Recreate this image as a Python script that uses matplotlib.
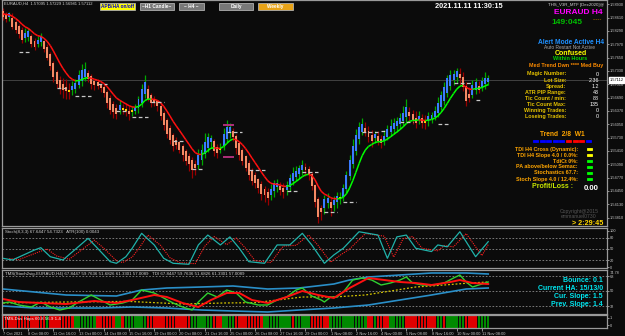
import numpy as np
import matplotlib
matplotlib.use('Agg')
import matplotlib.pyplot as plt
from matplotlib.patches import Rectangle
from matplotlib.collections import LineCollection

plt.rcParams['font.family'] = ['Liberation Sans', 'DejaVu Sans']

W, H = 625, 336
BG = '#0b0b0b'

# --- H4 bars, 7 Oct 2021 00:00 -> 11 Nov 2021 ---
mid_price = [
    1.5870, 1.5862, 1.5867, 1.5850, 1.5841, 1.5831, 1.5819, 1.5817, 1.5822, 1.5807,
    1.5798, 1.5802, 1.5810, 1.5795, 1.5778, 1.5759, 1.5735, 1.5716, 1.5702, 1.5694,
    1.5690, 1.5685, 1.5692, 1.5697, 1.5711, 1.5721, 1.5728, 1.5721, 1.5711, 1.5704,
    1.5702, 1.5697, 1.5687, 1.5670, 1.5654, 1.5644, 1.5637, 1.5644, 1.5642, 1.5639,
    1.5634, 1.5637, 1.5642, 1.5654, 1.5673, 1.5692, 1.5678, 1.5666, 1.5661, 1.5654,
    1.5637, 1.5618, 1.5598, 1.5582, 1.5567, 1.5562, 1.5553, 1.5541, 1.5529, 1.5519,
    1.5507, 1.5505, 1.5519, 1.5531, 1.5548, 1.5562, 1.5567, 1.5553, 1.5543, 1.5546,
    1.5567, 1.5584, 1.5591, 1.5582, 1.5562, 1.5546, 1.5531, 1.5514, 1.5498, 1.5483,
    1.5474, 1.5462, 1.5450, 1.5442, 1.5435, 1.5442, 1.5454, 1.5459, 1.5452, 1.5447,
    1.5454, 1.5466, 1.5478, 1.5486, 1.5493, 1.5500, 1.5498, 1.5490, 1.5471, 1.5438,
    1.5404, 1.5399, 1.5414, 1.5421, 1.5411, 1.5418, 1.5426, 1.5428, 1.5442, 1.5466,
    1.5500, 1.5531, 1.5560, 1.5584, 1.5596, 1.5591, 1.5582, 1.5572, 1.5577, 1.5570,
    1.5565, 1.5572, 1.5584, 1.5594, 1.5601, 1.5606, 1.5613, 1.5622, 1.5634, 1.5630,
    1.5622, 1.5615, 1.5620, 1.5613, 1.5610, 1.5618, 1.5622, 1.5630, 1.5644, 1.5661,
    1.5678, 1.5697, 1.5711, 1.5718, 1.5726, 1.5721, 1.5706, 1.5678, 1.5673, 1.5687,
    1.5697, 1.5692, 1.5702, 1.5709, 1.5711]

# signed body length in pips (positive = bullish)
body_pips = [
    -14, -10, 8, -22, -18, -20, -24, 12, 16, -20,
    -16, 10, 14, -18, -26, -30, -34, -28, -20, -14,
    -10, -6, 10, 14, 22, 26, 18, -14, -18, -12,
    -10, -8, -16, -26, -30, -20, -14, 12, -6, -4,
    -8, 6, 10, 22, 34, 30, -24, -18, -10, -12,
    -24, -30, -34, -30, -26, -12, -18, -22, -24, -20,
    -22, -8, 24, 22, 30, 26, 10, -22, -16, 6,
    30, 28, 14, -16, -30, -28, -26, -28, -30, -26,
    -20, -22, -24, -16, -14, 14, 20, 10, -12, -8,
    12, 22, 20, 16, 14, 12, -8, -14, -28, -40,
    -42, -10, 22, 12, -14, 12, 14, 6, 22, 34,
    40, 44, 40, 30, 18, -10, -16, -14, 10, -12,
    -10, 12, 18, 16, 14, 12, 14, 20, 24, -10,
    -14, -12, 10, -12, -6, 12, 10, 14, 24, 30,
    34, 36, 26, 16, 14, -10, -24, -36, -10, 22,
    18, -8, 16, 14, 8]

wick_up = [
    6, 8, 4, 10, 6, 4, 8, 12, 6, 4, 6, 10, 8, 4, 6, 4, 4, 6, 8, 14,
    18, 16, 12, 10, 14, 16, 18, 8, 6, 4, 6, 4, 6, 4, 6, 8, 10, 12, 8, 14,
    10, 8, 6, 8, 12, 16, 10, 6, 8, 4, 6, 4, 4, 6, 4, 6, 4, 6, 4, 6,
    8, 10, 14, 16, 20, 10, 8, 6, 6, 12, 14, 16, 10, 6, 4, 6, 4, 4, 6, 4,
    6, 4, 6, 8, 10, 12, 8, 10, 8, 12, 10, 8, 14, 10, 8, 12, 10, 8, 6, 4,
    6, 8, 10, 12, 10, 8, 10, 12, 8, 10, 12, 16, 14, 12, 16, 14, 10, 12, 8, 12,
    10, 14, 10, 16, 12, 10, 12, 16, 20, 12, 10, 16, 12, 10, 14, 10, 8, 12, 14, 10,
    12, 8, 12, 10, 8, 14, 12, 10, 16, 14, 10, 12, 8, 14, 8]

wick_dn = [
    8, 6, 10, 6, 8, 10, 6, 8, 10, 6, 8, 6, 10, 8, 6, 10, 12, 10, 14, 18,
    20, 16, 12, 10, 8, 12, 10, 8, 12, 10, 8, 10, 8, 12, 10, 14, 12, 8, 10, 12,
    14, 10, 8, 12, 10, 8, 6, 10, 8, 12, 10, 12, 8, 10, 12, 10, 8, 12, 10, 16,
    20, 18, 10, 12, 8, 10, 14, 12, 10, 8, 10, 8, 12, 10, 14, 12, 10, 8, 12, 10,
    12, 10, 14, 16, 18, 12, 14, 12, 10, 14, 12, 10, 8, 10, 12, 10, 14, 12, 10, 12,
    16, 20, 14, 12, 18, 16, 14, 12, 10, 8, 10, 8, 10, 12, 8, 10, 12, 14, 12, 10,
    12, 10, 8, 10, 12, 14, 12, 10, 12, 14, 10, 12, 10, 12, 14, 12, 10, 8, 10, 8,
    10, 8, 10, 12, 14, 16, 10, 12, 10, 8, 10, 8, 10, 12, 8]

current_price = 1.57112
price_ticks = [1.58930, 1.58610, 1.58290, 1.57970, 1.57650, 1.57330, 1.57010,
               1.56690, 1.56370, 1.56050, 1.55730, 1.55410, 1.55090, 1.54770,
               1.54450, 1.54130, 1.53810]

# short support / resistance marks: start bar, end bar, price
level_start = [5, 17, 23, 30, 36, 41, 47, 54, 60, 71, 78, 90, 95, 102, 108, 114, 120, 126, 138, 143, 150]
level_end = [9, 20, 28, 33, 39, 46, 51, 57, 63, 76, 83, 94, 100, 106, 112, 119, 122, 130, 142, 149, 152]
level_price = [1.5778, 1.5692, 1.5673, 1.5702, 1.5637, 1.5622, 1.5658, 1.5565, 1.5498, 1.5586,
               1.5495, 1.5445, 1.5490, 1.5394, 1.5418, 1.5586, 1.5589, 1.5610, 1.5606, 1.5704, 1.5663]

# Stochastic
stoch_bars = [0, 3, 10, 12, 15, 19, 27, 30, 34, 36, 39, 41, 44, 48, 51, 54, 59, 62, 65, 69,
              72, 75, 78, 83, 87, 91, 95, 98, 102, 105, 108, 113, 119, 122, 125, 128, 131, 136,
              138, 141, 145, 150, 154]
stoch_k = [24.6, 20, 47.3, 53.6, 29, 20, 79, 52, 15.5, 11, 29, 52, 92.7, 61, 24.6, 11, 8.3, 61, 88, 61,
           83, 52, 15.5, 11, 61, 61, 92.7, 61, 11, 33.7, 52, 97, 88, 24.6, 83, 88, 52, 43,
           61, 56, 97, 29, 70]
stoch_d_bars = [2, 5, 12, 14, 17, 21, 29, 32, 36, 38, 41, 43, 46, 50, 53, 56, 61, 64, 67, 71,
                74, 77, 80, 85, 89, 93, 97, 100, 104, 107, 110, 115, 121, 124, 127, 130, 133, 138,
                140, 143, 147, 152, 154]
stoch_d = [24, 21, 44, 50, 31, 22, 74, 52, 18, 13, 28, 50, 88, 60, 26, 13, 10, 57, 84, 62,
           80, 52, 18, 13, 58, 60, 88, 60, 14, 33, 50, 92, 85, 28, 78, 84, 52, 45,
           59, 56, 92, 32, 62]

# TDI lines
rsi_bars = [0, 2, 5, 9, 12, 15, 18, 21, 24, 28, 31, 34, 38, 41, 44, 48, 51, 54, 57, 60,
            62, 65, 68, 71, 74, 77, 81, 84, 87, 90, 93, 95, 98, 101, 102, 104, 106, 108, 111, 114,
            117, 120, 123, 126, 128, 130, 133, 137, 140, 143, 145, 147, 149, 151, 154]
rsi_line = [35.6, 36.8, 33.2, 30.8, 36.8, 30.8, 27.2, 29.6, 36.8, 45.2,
            39.2, 33.2, 35.6, 39.2, 51.2, 47.6, 41.6, 35.6, 30.8, 27.2,
            36.8, 47.6, 42.8, 51.2, 47.6, 36.8, 33.2, 33.2, 39.2, 42.8,
            51.2, 53.6, 44, 39.2, 36.8, 42.8, 42.8, 48.8, 63.2, 65.6,
            63.2, 57.2, 59.6, 63.2, 66.8, 59.6, 57.2, 57.2, 59.6, 65.6,
            69.2, 60.8, 54.8, 57.2, 60.8]
sig_bars = [0, 5, 12, 20, 29, 36, 41, 48, 52, 57, 62, 66, 71, 75, 79, 84, 90, 95, 100, 105,
            110, 116, 121, 126, 131, 136, 142, 145, 149, 154]
sig_line = [40.4, 36.8, 35.6, 34.4, 38, 35.6, 39.2, 45.2, 42.8, 35.6, 30.8, 39.2, 47.6, 47.6, 39.2,
            35.6, 42.8, 50, 45.2, 41.6, 53.6, 65.6, 63.2, 60.8, 59.6, 57.2, 60.8, 63.2, 59.6, 58.4]
base_bars = [0, 20, 40, 57, 70, 80, 95, 105, 115, 131, 140, 148, 154]
base_line = [35.6, 36.8, 37.5, 34.4, 35.6, 36, 42.8, 42.8, 45.2, 54.8, 57.2, 59.6, 60.8]
band_bars = [0, 10, 20, 36, 44, 52, 63, 73, 84, 94, 105, 110, 116, 126, 136, 147, 154]
upper_band = [52.4, 48.8, 45.2, 44, 51.2, 53.6, 54.8, 56, 52.4, 53.6, 58.4, 63.2, 66.8, 69.2, 71.6, 71.6, 70.4]
low_bars = [0, 10, 31, 41, 52, 63, 73, 84, 94, 105, 116, 126, 136, 147, 154]
lower_band = [32, 29.6, 29.6, 30.8, 29.6, 27.2, 26, 24.8, 27.2, 29.6, 33.2, 39.2, 45.2, 52.4, 53.6]

# signal strip (runs of red / green bars)
strip_cols = ['r', 'g', 'r', 'g', 'r', 'g', 'r', 'g', 'r', 'g', 'r', 'g', 'r', 'g',
              'r', 'g', 'r', 'g', 'r', 'g', 'r', 'g', 'r', 'g', 'r', 'g', 'r', 'g']
strip_runs = [14, 1, 8, 7, 6, 2, 1, 7, 14, 7, 3, 4, 9, 9, 1, 5, 6, 12, 2, 1, 4, 5, 10, 2, 1, 6, 4, 4]

date_bars = [0, 8, 16, 24, 32, 40, 48, 56, 64, 72, 80, 88, 96, 104, 112, 120, 128, 136, 144, 152]
date_labels = ['7 Oct 2021', '8 Oct 08:00', '11 Oct 16:00', '13 Oct 00:00', '14 Oct 08:00',
               '15 Oct 16:00', '19 Oct 00:00', '20 Oct 08:00', '21 Oct 16:00', '25 Oct 00:00',
               '26 Oct 08:00', '27 Oct 16:00', '29 Oct 00:00', '1 Nov 08:00', '2 Nov 16:00',
               '4 Nov 00:00', '5 Nov 08:00', '8 Nov 16:00', '10 Nov 00:00', '11 Nov 08:00']

info_labels = ['Magic Number:', 'Lot Size:', 'Spread:', 'ATR PIP Range:', 'Tic Count / min:',
               'Tic Count Max:', 'Winning Trades:', 'Loseing Trades:']
info_values = ['0', '2.36', '1.2', '43', '88', '135', '0', '0']
check_labels = ['TDI H4 Cross (Dynamic):', 'TDI H4 Slope 4.0 / 0.0%:', 'TdiCt 0%:',
                'PA above/below Semac:', 'Stochastics 67.7:', 'Stoch Slope 4.0 / 12.4%:']
check_cols = ['#ffff00', '#ffff00', '#00ff00', '#00ff00', '#00ff00', '#00ff00']
trend_cols = ['#0000ff'] * 5 + ['#ff0000'] * 3 + ['#0000ff']

# ---------------------------------------------------------------
fig = plt.figure(figsize=(W / 100, H / 100), dpi=100, facecolor=BG)


def box(x0, y0, x1, y1):
    return [x0 / W, 1 - y1 / H, (x1 - x0) / W, (y1 - y0) / H]


def ftext(x, y, s, **kw):
    kw.setdefault('va', 'center')
    fig.text(x / W, 1 - y / H, s, **kw)


def frect(x0, y0, x1, y1, color, ec=None):
    fig.add_artist(Rectangle((x0 / W, 1 - y1 / H), (x1 - x0) / W, (y1 - y0) / H,
                             transform=fig.transFigure, facecolor=color,
                             edgecolor=ec or color, linewidth=0.6))


XLIM = (-0.32, 191.7)
ax = fig.add_axes(box(2, 0, 607, 226))
ax_st = fig.add_axes(box(2, 228, 607, 268))
ax_tdi = fig.add_axes(box(2, 270, 607, 314))
ax_sig = fig.add_axes(box(2, 315, 607, 328))

for a in (ax, ax_st, ax_tdi, ax_sig):
    a.set_facecolor(BG)
    a.set_xlim(*XLIM)
    for s in a.spines.values():
        s.set_color('#9a9a9a')
        s.set_linewidth(0.9)
    a.yaxis.tick_right()
    a.tick_params(axis='y', colors='#c8c8c8', labelsize=2.8, length=1.2, width=0.5, pad=0.8)
    a.tick_params(axis='x', colors='#c8c8c8', length=0)
    a.set_xticks([])

# --- main price panel ---
x = np.arange(len(mid_price))
mid = np.array(mid_price)
body = np.array(body_pips) * 1e-4
o = mid - body / 2
c = mid + body / 2
hi = np.maximum(o, c) + np.array(wick_up) * 1e-4
lo = np.minimum(o, c) - np.array(wick_dn) * 1e-4
bull = body > 0
wick_col = np.where(bull, '#00a800', '#9a0000')
body_col = np.where(bull, '#3a7bff', '#f58a64')
body_col = np.where(np.abs(body_pips) <= 6, '#ffd400', body_col)

ax.set_ylim(1.53608, 1.59032)
ax.axhline(current_price, color='#4a4a4a', lw=0.6, zorder=1)
ax.vlines(x, lo, hi, colors=wick_col, lw=0.9, zorder=2)
ax.bar(x, c - o, bottom=o, width=0.62, color=body_col, linewidth=0, zorder=3)

# trend moving average, red falling / green rising
ema = np.empty_like(mid)
ema[0] = mid[0]
k = 2 / 9
for i in range(1, len(mid)):
    ema[i] = ema[i - 1] + k * (mid[i] - ema[i - 1])
segs = [[(x[i - 1], ema[i - 1]), (x[i], ema[i])] for i in range(1, len(ema))]
seg_col = ['#00ff00' if ema[i] > ema[i - 1] else '#ff1010' for i in range(1, len(ema))]
ax.add_collection(LineCollection(segs, colors=seg_col, linewidths=1.1, zorder=4))

for s0, s1, p in zip(level_start, level_end, level_price):
    ax.plot([s0, s1], [p, p], color='#c8c8c8', lw=0.9, ls=(0, (3, 2)), zorder=5)
ax.plot([70, 73], [1.5603, 1.5603], color='#b0307a', lw=1.4, zorder=5)
ax.plot([70, 73], [1.5526, 1.5526], color='#b0307a', lw=1.4, zorder=5)

ax.set_yticks(price_ticks)
ax.set_yticklabels([f'{v:.5f}' for v in price_ticks])
ax.text(1.004, current_price, f'{current_price:.5f}', transform=ax.get_yaxis_transform(),
        fontsize=2.8, color='black', va='center', ha='left',
        bbox=dict(facecolor='white', edgecolor='white', pad=0.4))

# --- stochastic panel ---
ax_st.set_ylim(-1.8, 107.2)
for lv in (20, 50, 80):
    ax_st.axhline(lv, color='#8a8a8a', lw=0.6, ls=(0, (2, 2)))
ax_st.plot(stoch_d_bars, stoch_d, color='#ff2020', lw=0.8, ls=(0, (1, 1)))
ax_st.plot(stoch_bars, stoch_k, color='#20b2aa', lw=0.9)
ax_st.set_yticks([0, 20, 50, 80, 100])
ax_st.set_yticklabels(['0', '20', '50', '80', '100'])

# --- TDI panel ---
ax_tdi.set_ylim(22.4, 75.2)
for lv in (32, 50, 68):
    ax_tdi.axhline(lv, color='#8a8a8a', lw=0.6, ls=(0, (2, 2)))
ax_tdi.plot(band_bars, upper_band, color='#2a8fc8', lw=1.2)
ax_tdi.plot(low_bars, lower_band, color='#2a8fc8', lw=1.2)
ax_tdi.plot(base_bars, base_line, color='#d4c400', lw=0.9, ls=(0, (1.5, 1.5)))
ax_tdi.plot(rsi_bars, rsi_line, color='#30d030', lw=1.0)
ax_tdi.plot(sig_bars, sig_line, color='#ff1010', lw=1.4)
ax_tdi.set_yticks([32, 50, 68])
ax_tdi.set_yticklabels(['32', '50', '68'])
ftext(609.5, 272.5, '74.78', color='#c8c8c8', fontsize=2.8)

# --- signal strip ---
strip = []
for col, n in zip(strip_cols, strip_runs):
    strip += [col] * n
ax_sig.set_ylim(0, 1)
ax_sig.bar(x, 1, bottom=0, width=0.8,
           color=['#e00000' if s == 'r' else '#008a00' for s in strip], linewidth=0)
ax_sig.set_yticks([0.2, 0.8])
ax_sig.set_yticklabels(['0', '1'])
ax_sig.set_xticks(date_bars)
ax_sig.set_xticklabels(date_labels, ha='left', fontsize=2.9, color='#d0d0d0')
ax_sig.tick_params(axis='x', length=2, width=0.5, pad=1.2, colors='#c8c8c8')

# --- top buttons ---
buttons = [(100, 135, 'APB/HA on/off', '#ffff00', '#0000cc'),
           (140, 174, '~H1 Candle~', '#787878', 'white'),
           (179, 204, '~ H4 ~', '#787878', 'white'),
           (219, 253, 'Daily', '#787878', 'white'),
           (258, 293, 'Weekly', '#e8a317', 'white')]
for x0, x1, lab, fc, tc in buttons:
    frect(x0, 3, x1, 9.5, fc, ec='#b0b0b0')
    ftext((x0 + x1) / 2, 6.3, lab, ha='center', color=tc, fontsize=3.4, weight='bold')

ftext(4, 4, 'EURAUD,H4  1.57095 1.57229 1.56981 1.57112', color='#d0d0d0', fontsize=3.0)
ftext(469, 6, '2021.11.11 11:30:15', ha='center', color='white', fontsize=5.3, weight='bold')

# --- info panel (right side of main chart) ---
ftext(604, 5, 'THS_V3R_MTF [Dec2020]@', ha='right', color='#d0d0d0', fontsize=3.2)
ftext(603, 12, 'EURAUD H4', ha='right', color='#ff00ff', fontsize=6.0, weight='bold')
ftext(567, 23, '149:045', ha='center', color='#00c000', fontsize=6.0, weight='bold')
ftext(597, 20, '-----', ha='center', color='#cc8800', fontsize=4)
ftext(571, 42, 'Alert Mode Active H4', ha='center', color='#1e90ff', fontsize=4.8, weight='bold')
ftext(570, 47.5, 'Auto Restart Not Active', ha='center', color='#a8a8a8', fontsize=3.5)
ftext(571, 53.5, 'Confused', ha='center', color='#ffff00', fontsize=5.0, weight='bold')
ftext(570, 59, 'Within Hours', ha='center', color='#00d000', fontsize=4.0, weight='bold')
ftext(566, 65, 'Med Trend Dwn **** Med Buy', ha='center', color='#ff8c00', fontsize=3.9, weight='bold')

for j, (lab, val) in enumerate(zip(info_labels, info_values)):
    yy = 74 + j * 6.1
    ftext(566, yy, lab, ha='right', color='#e6c200', fontsize=3.9, weight='bold')
    ftext(599, yy, val, ha='right', color='white', fontsize=3.9)

ftext(562, 135, 'Trend  2/8  W1', ha='center', color='#ffa500', fontsize=4.8, weight='bold')
for j, col in enumerate(trend_cols):
    x0 = 533 + j * 6.6
    frect(x0, 140, x0 + 5, 142.5, col)

for j, (lab, col) in enumerate(zip(check_labels, check_cols)):
    yy = 149 + j * 6
    ftext(578, yy, lab, ha='right', color='#ffa500', fontsize=3.9, weight='bold')
    frect(587, yy - 1.3, 592, yy + 1.3, col)

ftext(552, 187, 'Profit/Loss :', ha='center', color='#c8e600', fontsize=5.0, weight='bold')
ftext(599, 188, '0.00', ha='right', color='white', fontsize=5.6, weight='bold')
ftext(579, 212, 'Copyright@2015', ha='center', color='#555555', fontsize=3.7)
ftext(579, 217, 'emmanuel0730', ha='center', color='#555555', fontsize=3.7)
ftext(603, 223.5, '> 2:29:45', ha='right', color='#ffd700', fontsize=5.2, weight='bold')

# --- sub panel captions ---
ftext(5, 231.5, 'Stoch(8,3,3) 67.6447 54.7323   ATR(100) 0.0043', color='#d0d0d0', fontsize=3.2)
ftext(5, 273.5, 'TMS(Stoch2sig-EURAUD,H4) 67.8447 59.7636 51.6826 61.3301 57.0089   '
                'TDI 67.8447 59.7636 51.6826 61.3301 57.0089', color='#d0d0d0', fontsize=3.2)
ftext(4, 319, 'TMS-Dss Hops 60.8 56.9 1.4', color='white', fontsize=3.2)

tdi_info = ['Bounce: 0.1', 'Current HA: 15/13/0', 'Cur. Slope: 1.5', 'Prev. Slope: 1.4']
for j, s in enumerate(tdi_info):
    ftext(603, 280 + j * 8.2, s, ha='right', color='#00e5ee', fontsize=5.0, weight='bold')

fig.savefig('out.png', dpi=100, facecolor=BG)
